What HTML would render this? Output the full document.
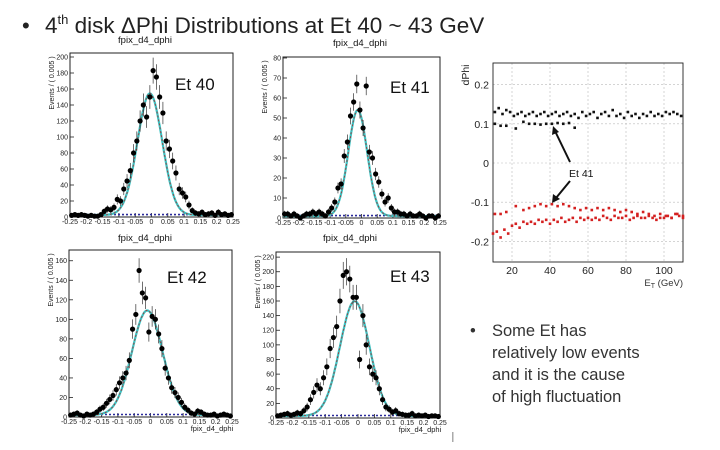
<!DOCTYPE html>
<html><head><meta charset="utf-8">
<style>
html,body{margin:0;padding:0;background:#fff;}
body{width:720px;height:450px;overflow:hidden;position:relative;font-family:"Liberation Sans",sans-serif;}
svg{position:absolute;left:0;top:0;}
</style></head>
<body>
<svg id="s" width="720" height="450" viewBox="0 0 720 450">
<text x="22" y="33" font-size="22" fill="#222">•</text>
<text x="45" y="33" font-size="22.5" fill="#222">4<tspan font-size="13" dy="-9">th</tspan><tspan dy="9"> disk ΔPhi Distributions at Et 40 ~ 43 GeV</tspan></text>
<g font-size="16.5" fill="#333">
<text x="470" y="336">•</text>
<text x="492" y="336">Some Et has</text>
<text x="492" y="358">relatively low events</text>
<text x="492" y="380">and it is the cause</text>
<text x="492" y="402">of high fluctuation</text>
</g>
<rect x="452" y="432" width="1.5" height="10" fill="#aaa"/>
</svg>
<script>
const binCenters = [];
for (let i = 0; i < 50; i++) binCenters.push(-0.245 + i * 0.01);
const xTickLabels = ["-0.25","-0.2","-0.15","-0.1","-0.05","0","0.05","0.1","0.15","0.2","0.25"];
const xTickValues = [-0.25,-0.2,-0.15,-0.1,-0.05,0,0.05,0.1,0.15,0.2,0.25];
const et40Values = [2,3,2,3,2,1,2,1,1,3,7,10,9,12,22,20,35,45,58,80,95,120,140,125,150,183,175,150,130,95,85,70,55,35,30,25,15,8,5,4,6,3,4,5,2,6,3,4,2,3];
const et41Values = [2,2,1,2,1,0,1,2,2,3,2,3,2,1,3,5,8,15,17,31,38,51,58,67,54,45,66,33,30,22,18,12,8,10,5,3,3,2,2,1,2,1,1,2,1,0,1,1,0,1];
const et42Values = [2,3,4,2,1,3,2,3,5,8,10,14,18,22,28,35,40,45,58,90,105,150,127,122,87,103,100,85,70,50,40,30,25,20,15,10,7,4,3,6,5,3,2,2,3,1,2,3,2,1];
const et43Values = [3,4,5,6,4,5,7,6,10,15,25,35,45,40,55,70,95,110,125,160,195,200,190,165,165,80,140,100,70,60,55,40,25,15,12,8,10,6,5,4,4,6,3,4,3,4,2,3,3,2];
const et40Ticks = [0,20,40,60,80,100,120,140,160,180,200];
const et41Ticks = [0,10,20,30,40,50,60,70,80];
const et42Ticks = [0,20,40,60,80,100,120,140,160];
const et43Ticks = [0,20,40,60,80,100,120,140,160,180,200,220];
const et40Fit = [152,-0.005,0.038];
const et41Fit = [53,-0.012,0.03];
const et42Fit = [107,-0.01,0.047];
const et43Fit = [157,-0.01,0.045];

const blackUpperEt = [11,13,15,17,19,21,23,25,27,29,31,33,35,37,39,41,43,45,47,49,51,53,55,57,59,61,63,65,67,69,71,73,75,77,79,81,83,85,87,89,91,93,95,97,99,101,103,105,107,109];
const blackUpperPhi = [0.13,0.14,0.125,0.135,0.13,0.12,0.125,0.13,0.12,0.125,0.13,0.12,0.125,0.13,0.12,0.125,0.13,0.12,0.125,0.13,0.12,0.125,0.115,0.13,0.12,0.125,0.13,0.115,0.125,0.13,0.12,0.135,0.12,0.125,0.115,0.13,0.12,0.125,0.115,0.125,0.12,0.13,0.12,0.125,0.12,0.13,0.125,0.13,0.125,0.12];
const blackLowerEt = [11,14,17,22,26,29,32,35,38,41,44,47,50,53];
const blackLowerPhi = [0.1,0.095,0.095,0.088,0.105,0.1,0.1,0.098,0.1,0.1,0.102,0.1,0.102,0.09];
const redUpperEt = [11,14,17,22,26,29,32,35,38,41,44,47,50,53,56,59,62,65,68,71,74,77,80,83,86,89,92,95,98,101,104,107,110];
const redUpperPhi = [-0.13,-0.13,-0.125,-0.11,-0.12,-0.115,-0.11,-0.105,-0.11,-0.105,-0.11,-0.105,-0.11,-0.115,-0.12,-0.115,-0.12,-0.115,-0.12,-0.115,-0.12,-0.125,-0.12,-0.125,-0.13,-0.125,-0.13,-0.135,-0.13,-0.135,-0.14,-0.13,-0.135];
const redLowerEt = [10,12,14,16,18,20,22,24,26,28,30,32,34,36,38,40,42,44,46,48,50,52,54,56,58,60,62,64,66,68,70,72,74,76,78,80,82,84,86,88,90,92,94,96,98,100,102,104,106,108,110];
const redLowerPhi = [-0.18,-0.175,-0.19,-0.17,-0.18,-0.16,-0.155,-0.165,-0.15,-0.155,-0.15,-0.155,-0.145,-0.15,-0.145,-0.155,-0.145,-0.15,-0.14,-0.15,-0.145,-0.14,-0.15,-0.14,-0.145,-0.14,-0.145,-0.14,-0.145,-0.135,-0.14,-0.145,-0.135,-0.14,-0.14,-0.135,-0.145,-0.14,-0.135,-0.14,-0.14,-0.135,-0.14,-0.145,-0.14,-0.14,-0.135,-0.14,-0.13,-0.135,-0.14];
const rightXTicks = [20,40,60,80,100];
const rightYTicks = [-0.2,-0.1,0,0.1,0.2];
const rightYLabels = ["-0.2","-0.1","0","0.1","0.2"];

const NS = "http://www.w3.org/2000/svg";
const svg = document.getElementById('s');
function mk(tag, attrs, parent, text) {
  const e = document.createElementNS(NS, tag);
  for (const k in attrs) e.setAttribute(k, attrs[k]);
  if (text !== undefined) e.textContent = text;
  (parent || svg).appendChild(e);
  return e;
}

function panel(name, box, ymax, vals, ticks, fit, etLabel, etPos, titlePos, xlabelPos) {
  const g = mk('g', {});
  
  
  const xs = v => box.x0 + (v + 0.25) / 0.5 * (box.x1 - box.x0);
  const ys = v => box.y1 - v / ymax * (box.y1 - box.y0);
  const t = mk('text', {x: titlePos[0], y: titlePos[1], 'font-size': 9.5, 'text-anchor': 'middle', fill: '#111'}, g, 'fpix_d4_dphi');
  
  
  const fr = mk('rect', {x: box.x0, y: box.y0, width: box.x1 - box.x0, height: box.y1 - box.y0, fill: 'none', stroke: '#222', 'stroke-width': 1}, g);
  
  
  ticks.forEach(v => {
    const y = ys(v);
    mk('line', {x1: box.x0, x2: box.x0 + 4, y1: y, y2: y, stroke: '#222', 'stroke-width': 0.8}, g);
    const tl = mk('text', {x: box.x0 - 2, y: y + 2.5, 'font-size': 7, 'text-anchor': 'end', fill: '#222'}, g, String(v));
    
    
  });
  xTickValues.forEach((v, i) => {
    const x = xs(v);
    mk('line', {x1: x, x2: x, y1: box.y1, y2: box.y1 - 4, stroke: '#222', 'stroke-width': 0.8}, g);
    const tl = mk('text', {x: x, y: box.y1 + 7, 'font-size': 7, 'text-anchor': 'middle', fill: '#222'}, g, xTickLabels[i]);
    
    
  });
  const yl = mk('text', {transform: `translate(${box.x0 - 16},${box.y0 + 30}) rotate(-90)`, 'font-size': 7, 'text-anchor': 'middle', fill: '#222'}, g, 'Events / ( 0.005 )');
  
  
  if (xlabelPos) {
    const xl = mk('text', {x: xlabelPos[0], y: xlabelPos[1], 'font-size': 7.5, 'text-anchor': 'middle', fill: '#222'}, g, 'fpix_d4_dphi');
    
    
  }
  const bl = mk('line', {x1: box.x0, x2: box.x1, y1: ys(1.5 * ymax / 100), y2: ys(1.5 * ymax / 100), stroke: '#2a2a9a', 'stroke-width': 1.6, 'stroke-dasharray': '2,2'}, g);
  
  
  let d = '';
  for (let i = 0; i <= 200; i++) {
    const xv = -0.25 + i * 0.0025;
    const yv = fit[0] * Math.exp(-0.5 * Math.pow((xv - fit[1]) / fit[2], 2)) + ymax * 0.012;
    d += (i ? 'L' : 'M') + xs(xv).toFixed(1) + ',' + ys(yv).toFixed(1);
  }
  const c1 = mk('path', {d: d, fill: 'none', stroke: '#3cc4c4', 'stroke-width': 2.2}, g);
  
  
  const c2 = mk('path', {d: d, fill: 'none', stroke: '#9a3a3a', 'stroke-width': 0.9, 'stroke-dasharray': '2,2'}, g);
  
  
  vals.forEach((v, i) => {
    const x = xs(binCenters[i]), y = ys(v);
    const e = Math.sqrt(v) * (ymax / 200) * 1.1 + 1;
    const el = mk('line', {x1: x, x2: x, y1: ys(v + e), y2: ys(Math.max(0, v - e)), stroke: '#333', 'stroke-width': 0.7}, g);
    
    
    const p = mk('circle', {cx: x, cy: y, r: 2.6, fill: '#000'}, g);
    
    
  });
  const lab = mk('text', {x: etPos[0], y: etPos[1], 'font-size': 17, fill: '#111'}, g, etLabel);
  
  
}

panel('et40-histogram', {x0: 70, x1: 233, y0: 53, y1: 217}, 205, et40Values, et40Ticks, et40Fit, 'Et 40', [175, 90], [145, 43], null);
panel('et41-histogram', {x0: 283, x1: 440, y0: 57, y1: 218}, 80.5, et41Values, et41Ticks, et41Fit, 'Et 41', [390, 93], [360, 46], null);
panel('et42-histogram', {x0: 69, x1: 232, y0: 250, y1: 417}, 171, et42Values, et42Ticks, et42Fit, 'Et 42', [167, 283], [145, 241], [212, 431]);
panel('et43-histogram', {x0: 276, x1: 440, y0: 252, y1: 418}, 227, et43Values, et43Ticks, et43Fit, 'Et 43', [390, 282], [350, 241], [420, 432]);

(function () {
  const g = mk('g', {});
  
  
  const B = {x0: 493, x1: 683, y0: 63, y1: 262};
  const xs = v => B.x0 + (v - 10) / 100 * (B.x1 - B.x0);
  const ys = v => 163 - v * 392;
  rightXTicks.forEach(v => {
    mk('line', {x1: xs(v), x2: xs(v), y1: B.y0, y2: B.y1, stroke: '#bbb', 'stroke-width': 0.6, 'stroke-dasharray': '2,2'}, g);
    const t = mk('text', {x: xs(v), y: B.y1 + 12, 'font-size': 10.5, 'text-anchor': 'middle', fill: '#222'}, g, String(v));
    
    
  });
  rightYTicks.forEach((v, i) => {
    mk('line', {x1: B.x0, x2: B.x1, y1: ys(v), y2: ys(v), stroke: '#bbb', 'stroke-width': 0.6, 'stroke-dasharray': '2,2'}, g);
    const t = mk('text', {x: B.x0 - 4, y: ys(v) + 4, 'font-size': 10.5, 'text-anchor': 'end', fill: '#222'}, g, rightYLabels[i]);
    
    
  });
  const fr = mk('rect', {x: B.x0, y: B.y0, width: B.x1 - B.x0, height: B.y1 - B.y0, fill: 'none', stroke: '#222', 'stroke-width': 0.9}, g);
  
  
  const yt = mk('text', {transform: 'translate(469,75) rotate(-90)', 'font-size': 10.5, 'text-anchor': 'middle', fill: '#222'}, g, 'dPhi');
  
  
  const xt = mk('text', {x: 683, y: 286, 'font-size': 9.5, 'text-anchor': 'end', fill: '#333'}, g);
  xt.innerHTML = 'E<tspan font-size="7" dy="2">T</tspan><tspan dy="-2"> (GeV)</tspan>';
  
  
  function series(xsArr, ysArr, color, nm) {
    xsArr.forEach((x, i) => {
      const c = mk('rect', {x: xs(x) - 1.3, y: ys(ysArr[i]) - 1.3, width: 2.6, height: 2.6, fill: color}, g);
      
      
    });
  }
  series(blackUpperEt, blackUpperPhi, '#111', 'positive-dphi-point');
  series(blackLowerEt, blackLowerPhi, '#111', 'positive-dphi-point');
  series(redUpperEt, redUpperPhi, '#d42020', 'negative-dphi-point');
  series(redLowerEt, redLowerPhi, '#d42020', 'negative-dphi-point');
  const an = mk('text', {x: 569, y: 177, 'font-size': 10.5, fill: '#111'}, g, 'Et 41');
  
  
  const a1 = mk('line', {x1: 570, y1: 162, x2: 555, y2: 131, stroke: '#111', 'stroke-width': 2}, g);
  
  
  mk('polygon', {points: '553,126 552,135 559,132', fill: '#111'}, g);
  const a2 = mk('line', {x1: 570, y1: 181, x2: 556, y2: 198, stroke: '#111', 'stroke-width': 2}, g);
  
  
  mk('polygon', {points: '552,203 553,194 560,199', fill: '#111'}, g);
})();
</script>
</body></html>
